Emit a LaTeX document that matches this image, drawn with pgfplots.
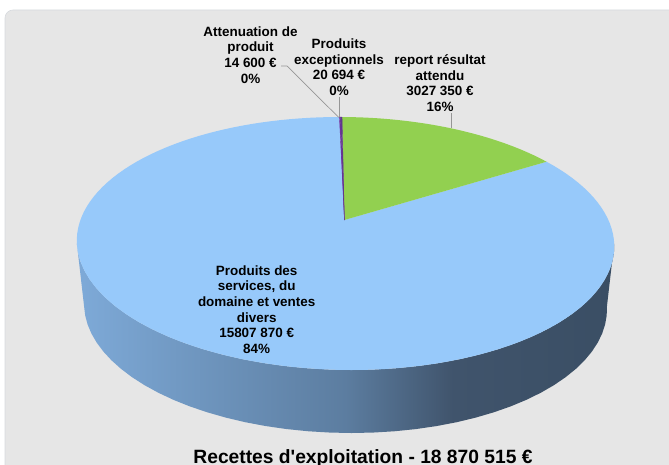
\documentclass[border=0pt]{standalone}
\usepackage{pgfplots}
\pgfplotsset{compat=1.18}
\usepackage{pgfplotstable}
\usepackage{fontspec}
\setmainfont{Liberation Sans}

\definecolor{bgc}{RGB}{230,230,230}
\definecolor{bgedge}{RGB}{215,218,222}
\definecolor{topblue}{RGB}{151,201,250}
\definecolor{greenc}{RGB}{146,208,80}
\definecolor{purpA}{RGB}{112,48,160}
\definecolor{purpB}{RGB}{96,56,140}
\definecolor{leader}{RGB}{150,150,150}
\definecolor{sA}{RGB}{126,170,216}
\definecolor{sB}{RGB}{92,125,160}
\definecolor{sC}{RGB}{64,84,108}
\definecolor{sD}{RGB}{58,78,100}
\pgfdeclarehorizontalshading{sideshade}{100bp}{color(0bp)=(sA); color(25bp)=(sA); color(50bp)=(sB); color(60bp)=(sC); color(75bp)=(sD); color(100bp)=(sD)}

% Recettes d'exploitation (EUR), in the order drawn clockwise from 12 o'clock
\pgfplotstableread{
idx value
0 14600
1 20694
2 3027350
3 15807870
}\recettes
\pgfplotstablegetelem{0}{value}\of\recettes \edef\vA{\pgfplotsretval}
\pgfplotstablegetelem{1}{value}\of\recettes \edef\vB{\pgfplotsretval}
\pgfplotstablegetelem{2}{value}\of\recettes \edef\vC{\pgfplotsretval}
\pgfplotstablegetelem{3}{value}\of\recettes \edef\vD{\pgfplotsretval}
\edef\total{\fpeval{\vA+\vB+\vC+\vD}}
\edef\aA{\fpeval{360*\vA/\total}}
\edef\aB{\fpeval{360*(\vA+\vB)/\total}}
\edef\aC{\fpeval{360*(\vA+\vB+\vC)/\total}}

\newcommand\lbl{\fontsize{13.5}{15.7}\selectfont\bfseries}

\begin{document}
\begin{tikzpicture}
\begin{axis}[at={(0,0)}, anchor=south west,
  width=669bp, height=465bp, scale only axis,
  xmin=0, xmax=669, ymin=0, ymax=465, y dir=reverse,
  hide axis, clip=false, no markers,
  declare function={
    dd(\t)=1+0.1858*cos(\t);
    py(\t)=(220-81.26*cos(\t))/dd(\t);
    px(\t)=344.4+264*sin(\t)/dd(\t)+0.0485*(py(\t)-220);
    rimang(\q)=100.71+3.9645*(40.5-abs(\q-40.5));
    dep(\q)=ifthenelse(\q>40.5,1,0);
    sx(\q)=344.4+(1-0.027*dep(\q))*(px(rimang(\q))-344.4);
    sy(\q)=py(rimang(\q))+63*dep(\q);
  }]
% background panel
\fill[bgc, draw=bgedge, line width=0.6pt, rounded corners=8bp] (axis cs:5,10) rectangle (axis cs:700,500);
% side of the pie (front part, all in the large slice)
\addplot[shading=sideshade, shade, draw=none, samples at={0,1,...,81}, variable=\k]
  ({sx(\k)},{sy(\k)}) -- cycle;
% top surface slices
\addplot[fill=topblue, draw=none, variable=\t, domain=\aC:360, samples=120]
  ({px(\t)},{py(\t)}) -- (axis cs:344.4,220) -- cycle;
\addplot[fill=greenc, draw=none, variable=\t, domain=\aB:\aC, samples=40]
  ({px(\t)},{py(\t)}) -- (axis cs:344.4,220) -- cycle;
\addplot[fill=purpA, draw=purpA, line width=0.35pt, variable=\t, domain=0:\aA, samples=3]
  ({px(\t)},{py(\t)}) -- (axis cs:344.4,220) -- cycle;
\addplot[fill=purpB, draw=purpB, line width=0.35pt, variable=\t, domain=\aA:\aB, samples=3]
  ({px(\t)},{py(\t)}) -- (axis cs:344.4,220) -- cycle;
% leader lines
\addplot[leader, line width=0.7pt] coordinates {(281,66) (287,66) (338.8,117.5)};
\addplot[leader, line width=0.7pt] coordinates {(339.4,97) (339.4,117.5)};
\addplot[leader, line width=0.7pt] coordinates {(451,113.5) (451,127.5)};
% labels
\node[anchor=north, align=center, inner sep=0pt, font=\lbl] at (axis cs:250.5,26.2)
  {Attenuation de\\produit\\14 600 €\\0\%};
\node[anchor=north, align=center, inner sep=0pt, font=\lbl] at (axis cs:339,38.5)
  {Produits\\exceptionnels\\20 694 €\\0\%};
\node[anchor=north, align=center, inner sep=0pt, font=\lbl] at (axis cs:440,54.3)
  {report résultat\\attendu\\3027 350 €\\16\%};
\node[anchor=north, align=center, inner sep=0pt, font=\lbl] at (axis cs:256.7,265.2)
  {Produits des\\services, du\\domaine et ventes\\divers\\15807 870 €\\84\%};
% title
\node[anchor=base, inner sep=0pt, font=\fontsize{19.3}{23}\selectfont\bfseries] at (axis cs:363,463)
  {Recettes d\textquotesingle exploitation - 18 870 515 €};
\end{axis}
\pgfresetboundingbox
\path (0,0) rectangle (669bp,465bp);
\end{tikzpicture}
\end{document}
